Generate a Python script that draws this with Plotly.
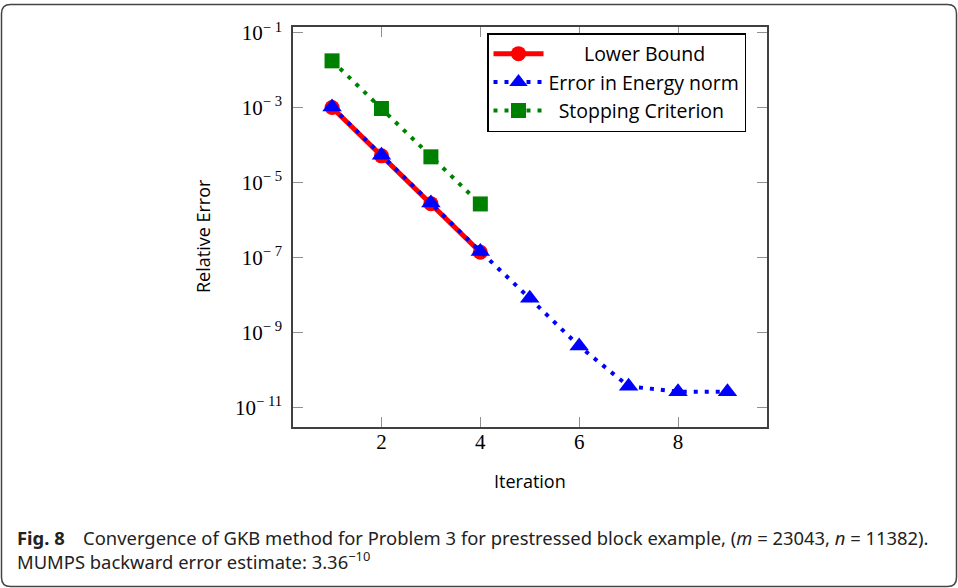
import plotly.graph_objects as go

# ---- data ----
iter_lower = [1, 2, 3, 4]
lower_bound = [1.02e-3, 5.2e-5, 2.75e-6, 1.38e-7]

iter_energy = [1, 2, 3, 4, 5, 6, 7, 8, 9]
energy_err = [1.05e-3, 5.4e-5, 2.85e-6, 1.45e-7, 8.1e-9, 4.3e-10, 3.6e-11, 2.6e-11, 2.6e-11]

iter_stop = [1, 2, 3, 4]
stop_crit = [1.8e-2, 9.6e-4, 4.9e-5, 2.7e-6]

ytick_vals = [1e-1, 1e-3, 1e-5, 1e-7, 1e-9, 1e-11]
ytick_text = ["10<sup>\u2212\u00a01</sup>", "10<sup>\u2212\u00a03</sup>", "10<sup>\u2212\u00a05</sup>",
              "10<sup>\u2212\u00a07</sup>", "10<sup>\u2212\u00a09</sup>", "10<sup>\u2212\u00a011</sup>"]
xtick_vals = [2, 4, 6, 8]

W, H = 958, 588
L, R, T, B = 293, 767, 27, 427

def px(x):
    return (x - L) / (R - L)

def py(y):
    return (B - y) / (B - T)

NB = "\u00a0"
fig = go.Figure()
fig.add_trace(go.Scatter(
    x=iter_lower, y=lower_bound, mode="lines+markers",
    name=NB * 7 + "Lower Bound",
    line=dict(color="#ff0000", width=5),
    marker=dict(symbol="circle", size=15, color="#ff0000"),
))
fig.add_trace(go.Scatter(
    x=iter_energy, y=energy_err, mode="lines+markers",
    name="Error in Energy norm",
    line=dict(color="#0000ff", width=4, dash="4px,7px"),
    marker=dict(symbol="triangle-up", size=17, color="#0000ff"),
))
fig.add_trace(go.Scatter(
    x=iter_stop, y=stop_crit, mode="lines+markers",
    name=NB * 2 + "Stopping Criterion",
    line=dict(color="#008000", width=4, dash="4px,7px"),
    marker=dict(symbol="square", size=15, color="#008000"),
))

tickfont = dict(family="Liberation Serif, DejaVu Serif, serif", size=21, color="#000000")
fig.update_xaxes(
    type="linear", range=[0.21, 9.8],
    tickvals=xtick_vals, ticktext=[str(v) for v in xtick_vals],
    ticks="inside", ticklen=10, tickcolor="#909090", tickwidth=1,
    showline=True, linecolor="#404040", linewidth=1.5, mirror="allticks",
    showgrid=False, zeroline=False, tickfont=tickfont, ticklabelstandoff=-5,
)
fig.update_yaxes(
    type="log", range=[-11.53, -0.84],
    tickvals=ytick_vals, ticktext=ytick_text,
    ticks="inside", ticklen=10, tickcolor="#909090", tickwidth=1,
    showline=True, linecolor="#404040", linewidth=1.5, mirror="allticks",
    showgrid=False, zeroline=False, tickfont=tickfont, ticklabelstandoff=5,
)

labfont = dict(family="Open Sans, Lato, sans-serif", size=18, color="#000000")
capfont = dict(family="Liberation Sans Narrow, Noto Sans, sans-serif", size=18.4, color="#222222")

annotations = [
    dict(text="Iteration", x=px(530), y=py(481), xref="paper", yref="paper",
         showarrow=False, font=labfont, xanchor="center", yanchor="middle"),
    dict(text="Relative Error", x=px(203), y=py(236), xref="paper", yref="paper",
         showarrow=False, font=labfont, textangle=-90, xanchor="center", yanchor="middle"),
    dict(text="<b>Fig. 8</b>\u2003Convergence of GKB method for Problem 3 for prestressed block example, "
              "(<i>m</i> = 23043, <i>n</i> = 11382).<br>MUMPS backward error estimate: 3.36<sup>\u221210</sup>",
         x=px(15), y=py(523), xref="paper", yref="paper", showarrow=False, font=capfont,
         xanchor="left", yanchor="top", align="left"),
]

# outer rounded frame
x0, x1, y0, y1, r = 1.5, 956.5, 4.5, 586.5, 9
path = (f"M {px(x0+r)},{py(y0)} L {px(x1-r)},{py(y0)} Q {px(x1)},{py(y0)} {px(x1)},{py(y0+r)} "
        f"L {px(x1)},{py(y1-r)} Q {px(x1)},{py(y1)} {px(x1-r)},{py(y1)} "
        f"L {px(x0+r)},{py(y1)} Q {px(x0)},{py(y1)} {px(x0)},{py(y1-r)} "
        f"L {px(x0)},{py(y0+r)} Q {px(x0)},{py(y0)} {px(x0+r)},{py(y0)} Z")

fig.update_layout(
    width=W, height=H,
    margin=dict(l=L, r=W - R, t=T, b=H - B),
    paper_bgcolor="white", plot_bgcolor="white",
    showlegend=True,
    legend=dict(
        x=px(487), y=py(33), xanchor="left", yanchor="top",
        bgcolor="white", bordercolor="#000000", borderwidth=1.5,
        font=dict(family="Open Sans, Lato, sans-serif", size=19.5, color="#000000"),
        itemwidth=50, tracegroupgap=0,
    ),
    annotations=annotations,
    shapes=[dict(type="path", path=path, xref="paper", yref="paper",
                 line=dict(color="#444444", width=1.5), layer="below")],
)

fig.write_html("out.html", config={"displayModeBar": False},
               post_script="document.body.style.margin='0px';document.body.style.overflow='hidden';")
